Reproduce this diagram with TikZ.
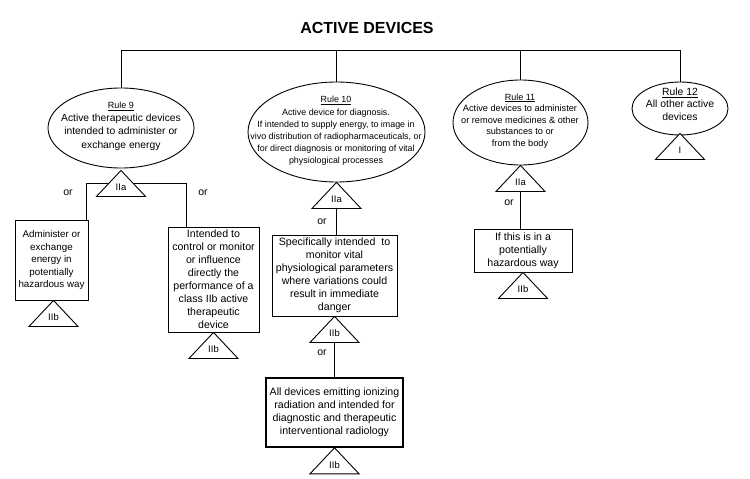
\documentclass[tikz,border=0pt]{standalone}
\usepackage{fontspec}
\setmainfont{Liberation Sans}
\usetikzlibrary{shapes.geometric}

\tikzset{
  ruleell/.style={draw, ellipse, inner sep=0pt},
  ruletxt/.style={align=center, inner sep=0pt},
  critbox/.style={draw, rectangle, align=center, inner sep=2pt,
    font=\fontsize{10.6}{13}\selectfont},
  clslbl/.style={inner sep=0pt, font=\fontsize{9.5}{11}\selectfont},
  ortxt/.style={font=\fontsize{10.5}{12}\selectfont},
}
% class triangle: name, apex, class
\newcommand{\classtri}[3]{%
  \coordinate (#1) at (#2);
  \coordinate (#1b) at ([yshift=-26pt]#1);
  \draw[fill=white] (#1) -- ([shift={(-24.5pt,-26pt)}]#1)
    -- ([shift={(24.5pt,-26pt)}]#1) -- cycle;
  \node[clslbl] (#1l) at ([yshift=-17pt]#1) {#3};
}

\begin{document}
\begin{tikzpicture}[x=1pt, y=-1pt, line width=0.9pt]
\useasboundingbox (0,0) rectangle (750,479);

\node[font=\bfseries\fontsize{16}{19}\selectfont] (title) at (367,28) {ACTIVE DEVICES};

% the four rules
\node[ruleell, minimum width=146pt, minimum height=80pt] (r9) at (121,128) {};
\node[ruleell, minimum width=177pt, minimum height=100pt] (r10) at (336.5,132) {};
\node[ruleell, minimum width=135pt, minimum height=85pt] (r11) at (520.5,122.5) {};
\node[ruleell, minimum width=96pt, minimum height=53pt] (r12) at (680,108.5) {};

\node[ruletxt, font=\fontsize{10.3}{13.3}\selectfont] (r9t) at (121,126)
  {{\fontsize{9}{11}\selectfont\underline{Rule 9}}\\Active therapeutic devices\\intended to administer or\\exchange energy};
\node[ruletxt, font=\fontsize{8.9}{12.2}\selectfont] (r10t) at (336,131)
  {\underline{Rule 10}\\Active device for diagnosis.\\If intended to supply energy, to image in\\vivo distribution of radiopharmaceuticals, or\\for direct diagnosis or monitoring of vital\\physiological processes};
\node[ruletxt, font=\fontsize{9.2}{11.6}\selectfont] (r11t) at (520,121)
  {{\fontsize{9}{11}\selectfont\underline{Rule 11}}\\Active devices to administer\\or remove medicines \& other\\substances to or\\from the body};
\node[ruletxt, font=\fontsize{10.4}{12.5}\selectfont] (r12t) at (680,104)
  {\underline{Rule 12}\\All other active\\devices};

\coordinate (bus) at (375,50);
\draw (r9.north) -- (r9.north |- bus) -- (r12.north |- bus) -- (r12.north);
\draw (r10.north) -- (r10.north |- bus);
\draw (r11.north) -- (r11.north |- bus);

% criteria boxes
\node[critbox, font=\fontsize{9.8}{12.5}\selectfont, minimum width=73pt, minimum height=80pt] (b9a) at (51.5,260)
  {Administer or\\exchange\\energy in\\potentially\\hazardous way};
\node[critbox, minimum width=91pt, minimum height=105pt] (b9b) at (213.5,279.5)
  {Intended to\\control or monitor\\or influence\\directly the\\performance of a\\class IIb active\\therapeutic\\device};
\node[critbox, minimum width=125pt, minimum height=81pt] (b10a) at (334.5,275.5)
  {Specifically intended\ \ to\\monitor vital\\physiological parameters\\where variations could\\result in immediate\\danger};
\node[critbox, line width=1.6pt, minimum width=137pt, minimum height=69pt] (b10b) at (334.5,412.5)
  {All devices emitting ionizing\\radiation and intended for\\diagnostic and therapeutic\\interventional radiology};
\node[critbox, minimum width=98pt, minimum height=43pt] (b11) at (523,250.5)
  {If this is in a\\potentially\\hazardous way};

% rule 9 branches
\coordinate (j9a) at (86,183);
\coordinate (j9b) at (186,183);
\draw (b9a.north -| j9a) -- (j9a) -- (j9b) -- (b9b.north -| j9b);
\node[ortxt] (or9a) at (68,193) {or};
\node[ortxt] (or9b) at (203,193) {or};

% classes
\classtri{t9}{[yshift=-2pt]r9.south}{IIa}
\classtri{t10}{r10.south}{IIa}
\classtri{t11}{r11.south}{IIa}
\classtri{t12}{[yshift=2pt]r12.south}{I}
\classtri{tb9a}{[xshift=2pt]b9a.south}{IIb}
\classtri{tb9b}{b9b.south}{IIb}
\classtri{tb10a}{b10a.south}{IIb}
\classtri{tb10b}{b10b.south}{IIb}
\classtri{tb11}{b11.south}{IIb}

\draw (t10b) -- (t10b |- b10a.north);
\draw (tb10ab) -- (tb10ab |- b10b.north);
\draw (t11b) -- (t11b |- b11.north);
\node[ortxt] (or10a) at (322,222) {or};
\node[ortxt] (or10b) at (322,353) {or};
\node[ortxt] (or11) at (509,203) {or};
\end{tikzpicture}
\end{document}
